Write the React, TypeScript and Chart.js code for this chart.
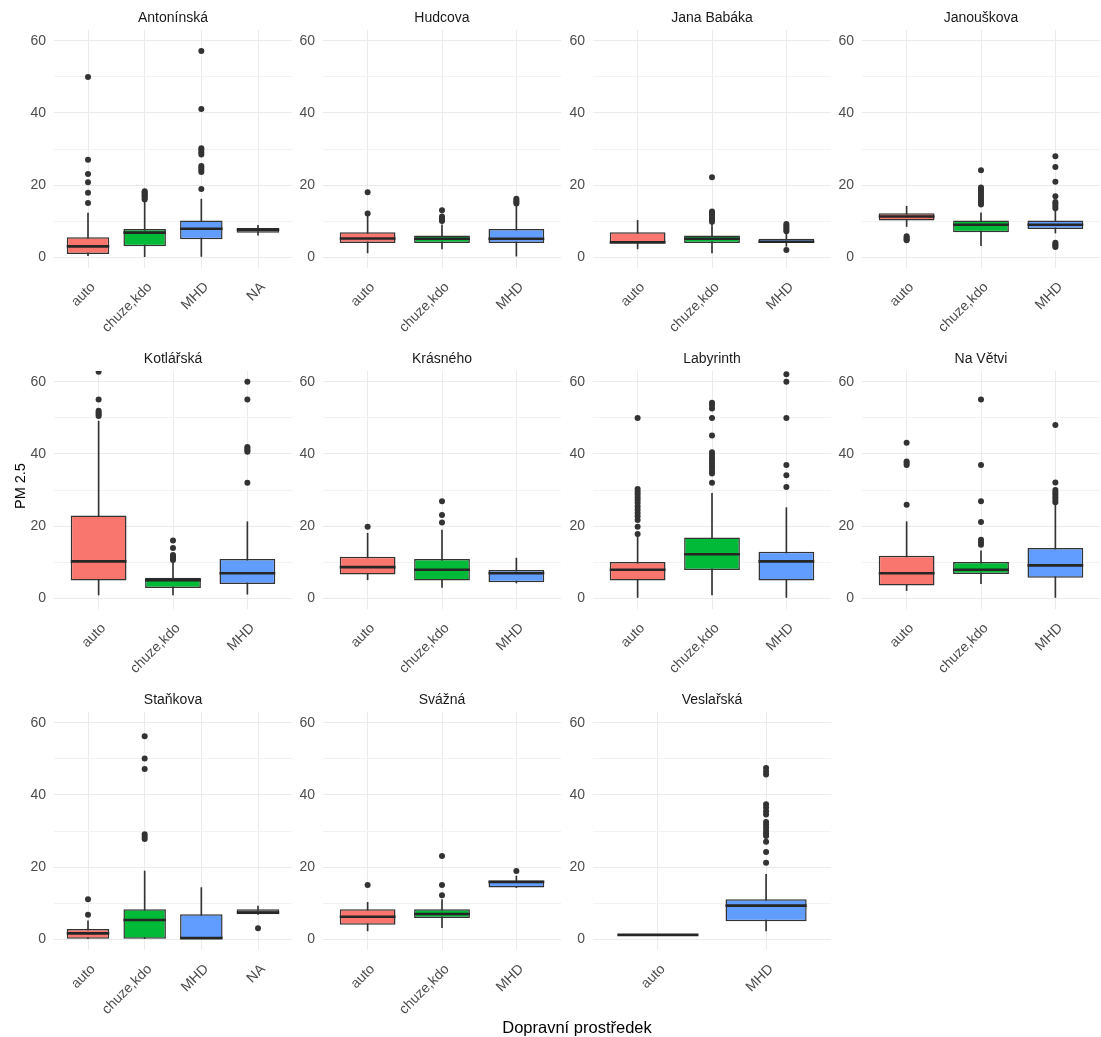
import React, { useEffect, useRef } from 'react';
import { Chart, registerables } from 'chart.js';

Chart.register(...registerables);

// facets (street) and the transport modes present in each one
const facetNames = [
    'Antonínská', 'Hudcova', 'Jana Babáka', 'Janouškova',
    'Kotlářská', 'Krásného', 'Labyrinth', 'Na Větvi',
    'Staňkova', 'Svážná', 'Veslařská',
];

const facetModes = [
    ['auto', 'chuze,kdo', 'MHD', 'NA'],
    ['auto', 'chuze,kdo', 'MHD'],
    ['auto', 'chuze,kdo', 'MHD'],
    ['auto', 'chuze,kdo', 'MHD'],
    ['auto', 'chuze,kdo', 'MHD'],
    ['auto', 'chuze,kdo', 'MHD'],
    ['auto', 'chuze,kdo', 'MHD'],
    ['auto', 'chuze,kdo', 'MHD'],
    ['auto', 'chuze,kdo', 'MHD', 'NA'],
    ['auto', 'chuze,kdo', 'MHD'],
    ['auto', 'MHD'],
];

// box plot statistics, one value per mode of each facet
const whiskerLow = [
    [0.4, 0, 0.2, 6.1],
    [1.2, 2.3, 0.3],
    [2.3, 1.2, 3.0],
    [8.5, 3.2, 6.7],
    [0.9, 0.9, 1.1],
    [5.1, 3.0, 4.2],
    [0.2, 0.9, 0.2],
    [2.1, 4.0, 0.2],
    [0, 0, 0, 6.9],
    [2.3, 3.2, 14.3],
    [1.2, 2.3],
];

const lowerQuartile = [
    [0.9, 3.0, 5.0, 6.8],
    [3.9, 3.9, 3.9],
    [3.9, 3.9, 3.9],
    [10.2, 6.9, 7.8],
    [4.9, 2.8, 3.9],
    [6.6, 4.9, 4.4],
    [4.9, 7.8, 4.9],
    [3.5, 6.7, 5.7],
    [0, 0, 0, 6.9],
    [4.0, 5.9, 14.3],
    [1.2, 5.0],
];

const medianValues = [
    [3.0, 6.8, 7.9, 7.6],
    [5.2, 5.1, 5.1],
    [4.1, 5.1, 4.3],
    [11.3, 9.0, 9.0],
    [10.2, 5.0, 6.9],
    [8.6, 7.9, 6.9],
    [7.9, 12.2, 10.2],
    [6.9, 7.9, 9.1],
    [1.6, 5.3, 0.3, 7.4],
    [6.2, 7.0, 15.9],
    [1.2, 9.3],
];

const upperQuartile = [
    [5.5, 7.8, 10.2, 8.1],
    [6.9, 6.0, 7.8],
    [6.9, 6.0, 5.1],
    [12.2, 10.2, 10.2],
    [22.9, 5.7, 10.9],
    [11.5, 10.9, 7.8],
    [10.0, 16.8, 12.9],
    [11.8, 10.0, 13.9],
    [2.8, 8.3, 6.9, 8.3],
    [8.3, 8.3, 16.3],
    [1.2, 11.1],
];

const whiskerHigh = [
    [12.2, 15.4, 16.1, 8.8],
    [11.5, 9.0, 14.1],
    [10.2, 9.2, 6.6],
    [14.1, 12.3, 13.0],
    [49.1, 10.2, 21.2],
    [18.0, 18.9, 11.1],
    [17.1, 29.1, 25.1],
    [21.2, 13.1, 26.3],
    [5.1, 18.9, 14.3, 9.2],
    [10.2, 11.0, 17.5],
    [1.2, 18.0],
];

const outlierValues = [
    [
        [15, 17.9, 20.8, 23.1, 27, 50],
        [16, 16.4, 16.8, 17.2, 17.6, 18, 18.3],
        [18.9, 23.6, 24.2, 24.8, 25.3, 28.5, 29.1, 29.7, 30.2, 41.1, 57.2],
        [],
    ],
    [
        [12.1, 18],
        [10.0, 10.4, 10.8, 11.3, 13],
        [14.9, 15.3, 15.7, 16.2],
    ],
    [
        [],
        [9.8, 10.3, 10.8, 11.3, 11.8, 12.3, 12.7, 22.2],
        [2.0, 7.2, 7.7, 8.2, 8.7, 9.2],
    ],
    [
        [4.7, 5.0, 5.4, 5.8],
        [14.6, 15.2, 15.8, 16.4, 17, 17.6, 18.2, 18.8, 19.3, 24.1],
        [2.8, 3.2, 3.6, 4.0, 13.6, 14.2, 14.8, 15.3, 16.9, 20.9, 25, 28],
    ],
    [
        [50.5, 51.0, 51.5, 52.0, 55.1, 62.8],
        [10.6, 11.0, 11.5, 12.0, 13.9, 16],
        [32, 40.6, 41, 41.5, 41.9, 55.1, 60],
    ],
    [
        [19.8],
        [21, 23.1, 26.9],
        [],
    ],
    [
        [17.8, 19.8, 21.7, 22.7, 23.6, 24.5, 25.4, 26.4, 27.2, 28, 28.8, 29.5, 30.3, 50],
        [32, 34.6, 35.2, 36, 36.7, 37.5, 38.3, 39, 39.8, 40.5, 45.1, 50, 52.6, 53.5, 54.2],
        [30.8, 34.1, 36.9, 50, 60, 62.1],
    ],
    [
        [25.9, 36.9, 37.5, 37.9, 43.1],
        [14.8, 15.5, 16.2, 21.1, 26.9, 36.9, 55.1],
        [26.6, 27.3, 28, 28.7, 29.3, 30, 32.1, 48],
    ],
    [
        [6.8, 11.1],
        [27.8, 28.4, 29.1, 47.2, 50.1, 56.3],
        [],
        [3.0],
    ],
    [
        [15],
        [12.2, 15, 23.1],
        [18.9],
    ],
    [
        [],
        [21.2, 24.2, 27, 28.6, 29.3, 30, 30.9, 31.7, 32.5, 34.6, 35.5, 36.5, 37.4, 45.7, 46.5, 47.5],
    ],
];

const yTickValues = [0, 10, 20, 30, 40, 50, 60];

const modeColors: Record<string, string> = {
    auto: '#F8766D',
    'chuze,kdo': '#00BA38',
    MHD: '#619CFF',
    NA: '#7F7F7F',
};

const FONT = '"Liberation Sans", Arial, Helvetica, sans-serif';
const EDGE = '#333333';

// panel geometry (px)
const PLOT_W = 238;
const PLOT_H = 238;
const AXIS_W = 50;
const TITLE_H = 30;
const LABEL_H = 75;
const PAD_R = 10;
const COL_LEFT = [54, 323, 593, 862];
const ROW_TOP = [30, 371, 712];

interface FacetPanelProps {
    index: number;
}

const FacetPanel: React.FC<FacetPanelProps> = ({ index }) => {
    const chartRef = useRef<HTMLCanvasElement>(null);

    useEffect(() => {
        let chartInstance: Chart | undefined;
        const ctx = chartRef.current ? chartRef.current.getContext('2d') : null;
        if (ctx) {
            const modes = facetModes[index];
            const positions = modes.map((_, i) => i + 1);
            const fills = modes.map((m) => modeColors[m]);
            // median bar spans the same width as the box (75% of a category)
            const halfBox = (c: any) => {
                const s = c.chart.scales.x;
                return (s.getPixelForValue(2) - s.getPixelForValue(1)) * 0.375;
            };

            chartInstance = new Chart(ctx, {
                type: 'bar',
                data: {
                    datasets: [
                        {
                            type: 'bar',
                            data: positions
                                .filter((_, i) => whiskerHigh[index][i] > whiskerLow[index][i])
                                .map((x) => ({ x, y: [whiskerLow[index][x - 1], whiskerHigh[index][x - 1]] })),
                            backgroundColor: EDGE,
                            barThickness: 1,
                            grouped: false,
                            order: 4,
                        },
                        {
                            type: 'bar',
                            data: positions.map((x, i) => ({ x, y: [lowerQuartile[index][i], upperQuartile[index][i]] })),
                            backgroundColor: fills,
                            borderColor: EDGE,
                            borderWidth: 1.5,
                            borderSkipped: false,
                            grouped: false,
                            categoryPercentage: 1,
                            barPercentage: 0.75,
                            order: 3,
                        },
                        {
                            type: 'scatter',
                            data: positions.map((x, i) => ({ x, y: medianValues[index][i] })),
                            pointStyle: 'line',
                            pointRadius: halfBox,
                            pointBorderColor: '#262626',
                            pointBorderWidth: 2.6,
                            order: 2,
                            clip: 0,
                        },
                        {
                            type: 'scatter',
                            data: positions.flatMap((x, i) => outlierValues[index][i].map((v) => ({ x, y: v }))),
                            pointRadius: 3,
                            pointBackgroundColor: EDGE,
                            pointBorderWidth: 0,
                            order: 1,
                            clip: 0,
                        },
                    ] as any,
                },
                options: {
                    animation: false,
                    responsive: false,
                    events: [],
                    layout: { padding: { left: 0, right: PAD_R, top: 0, bottom: 0 } },
                    plugins: {
                        legend: { display: false },
                        tooltip: { enabled: false },
                        title: {
                            display: true,
                            fullSize: false,
                            text: facetNames[index],
                            color: '#1A1A1A',
                            font: { family: FONT, size: 14, weight: 'normal' },
                            padding: { top: 9.5, bottom: 3.7 },
                        },
                    },
                    scales: {
                        x: {
                            type: 'linear',
                            min: 0.4,
                            max: modes.length + 0.6,
                            offset: false,
                            afterBuildTicks: (s: any) => {
                                s.ticks = positions.map((v) => ({ value: v }));
                            },
                            afterFit: (s: any) => {
                                s.height = LABEL_H;
                            },
                            ticks: {
                                autoSkip: false,
                                minRotation: 45,
                                maxRotation: 45,
                                padding: 11,
                                labelOffset: 5,
                                color: '#4D4D4D',
                                font: { family: FONT, size: 14 },
                                callback: (v: any) => modes[Number(v) - 1] ?? '',
                            },
                            grid: { color: '#EBEBEB', lineWidth: 1, drawTicks: false, offset: false },
                            border: { display: false },
                        },
                        y: {
                            type: 'linear',
                            min: -3,
                            max: 63,
                            afterBuildTicks: (s: any) => {
                                s.ticks = yTickValues.map((v) => ({ value: v }));
                            },
                            afterFit: (s: any) => {
                                s.width = AXIS_W;
                            },
                            ticks: {
                                autoSkip: false,
                                padding: 8,
                                color: '#4D4D4D',
                                font: { family: FONT, size: 14 },
                                callback: (v: any) => (Number(v) % 20 === 0 ? String(v) : ''),
                            },
                            grid: {
                                color: (c: any) => (c.tick && c.tick.value % 20 === 0 ? '#EBEBEB' : '#F2F2F2'),
                                lineWidth: 1,
                                drawTicks: false,
                            },
                            border: { display: false },
                        },
                    },
                } as any,
            });
        }
        return () => {
            if (chartInstance) {
                chartInstance.destroy();
            }
        };
    }, [index]);

    const col = index % 4;
    const row = Math.floor(index / 4);
    return (
        <canvas
            ref={chartRef}
            width={AXIS_W + PLOT_W + PAD_R}
            height={TITLE_H + PLOT_H + LABEL_H}
            style={{ position: 'absolute', left: COL_LEFT[col] - AXIS_W, top: ROW_TOP[row] - TITLE_H }}
        ></canvas>
    );
};

const App: React.FC = () => {
    return (
        <div style={{ position: 'absolute', left: 0, top: 0, width: 1101, height: 1037, background: '#FFFFFF', fontFamily: FONT }}>
            {facetNames.map((name, i) => (
                <FacetPanel key={name} index={i} />
            ))}
            <div
                style={{
                    position: 'absolute',
                    left: 20,
                    top: 486,
                    transform: 'translate(-50%, -50%) rotate(-90deg)',
                    fontSize: 14.5,
                    fontWeight: 400,
                    color: '#000000',
                    whiteSpace: 'nowrap',
                }}
            >
                PM 2.5
            </div>
            <div
                style={{
                    position: 'absolute',
                    left: 577,
                    top: 1027,
                    transform: 'translate(-50%, -50%)',
                    fontSize: 16.5,
                    fontWeight: 400,
                    color: '#000000',
                    whiteSpace: 'nowrap',
                }}
            >
                Dopravní prostředek
            </div>
        </div>
    );
};

export default App;
